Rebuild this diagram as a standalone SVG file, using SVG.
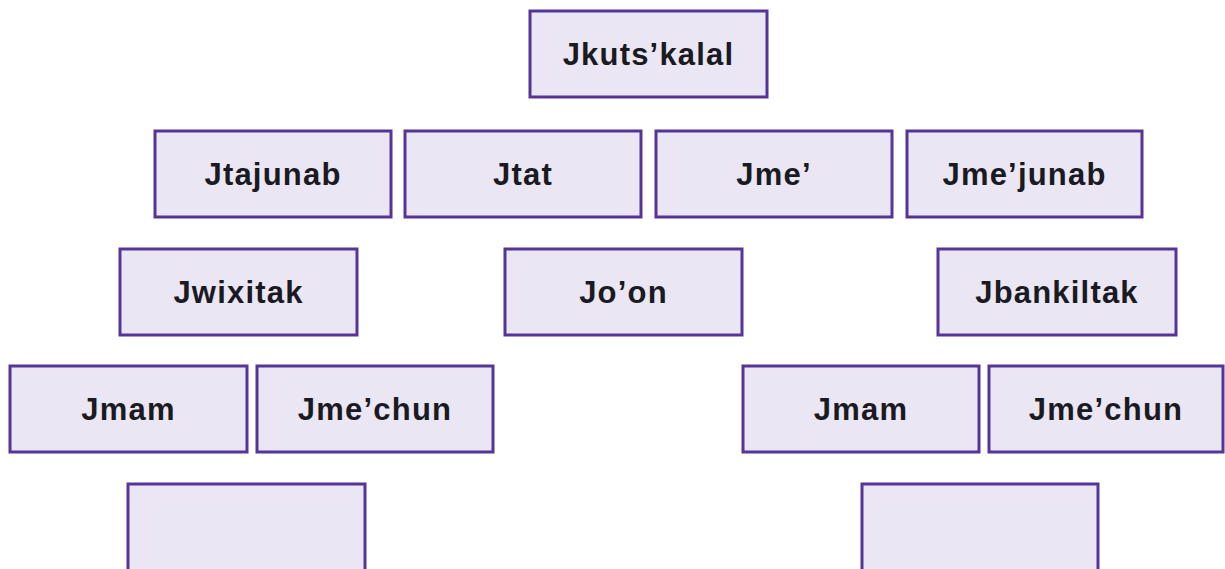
<svg xmlns="http://www.w3.org/2000/svg" width="1225" height="569" viewBox="0 0 1225 569">
<style>
.box{fill:#ebe6f3;stroke:#55359a;stroke-width:3}
.lbl{font-family:"Liberation Sans",Arial,sans-serif;font-weight:bold;font-size:31px;letter-spacing:1.2px;fill:#1a1a22;text-anchor:middle}
</style>
<rect width="1225" height="569" fill="#ffffff"/>
<g id="connectors"></g>
<g id="n-jkutskalal"><rect class="box" x="530" y="11" width="237" height="86"/><text class="lbl" x="648.5" y="65">Jkuts’kalal</text></g>
<g id="n-jtajunab"><rect class="box" x="155" y="131" width="236" height="86"/><text class="lbl" x="273" y="185">Jtajunab</text></g>
<g id="n-jtat"><rect class="box" x="405" y="131" width="236" height="86"/><text class="lbl" x="523" y="185">Jtat</text></g>
<g id="n-jme"><rect class="box" x="656" y="131" width="236" height="86"/><text class="lbl" x="774" y="185">Jme’</text></g>
<g id="n-jmejunab"><rect class="box" x="907" y="131" width="235" height="86"/><text class="lbl" x="1024.5" y="185">Jme’junab</text></g>
<g id="n-jwixitak"><rect class="box" x="120" y="249" width="237" height="86"/><text class="lbl" x="238.5" y="303">Jwixitak</text></g>
<g id="n-joon"><rect class="box" x="505" y="249" width="237" height="86"/><text class="lbl" x="623.5" y="303">Jo’on</text></g>
<g id="n-jbankiltak"><rect class="box" x="938" y="249" width="238" height="86"/><text class="lbl" x="1057" y="303">Jbankiltak</text></g>
<g id="n-jmam1"><rect class="box" x="10" y="366" width="237" height="86"/><text class="lbl" x="128.5" y="420">Jmam</text></g>
<g id="n-jmechun1"><rect class="box" x="257" y="366" width="236" height="86"/><text class="lbl" x="375" y="420">Jme’chun</text></g>
<g id="n-jmam2"><rect class="box" x="743" y="366" width="236" height="86"/><text class="lbl" x="861" y="420">Jmam</text></g>
<g id="n-jmechun2"><rect class="box" x="989" y="366" width="234" height="86"/><text class="lbl" x="1106" y="420">Jme’chun</text></g>
<g id="n-empty1"><rect class="box" x="128" y="484" width="237" height="90"/></g>
<g id="n-empty2"><rect class="box" x="862" y="484" width="236" height="90"/></g>
</svg>
